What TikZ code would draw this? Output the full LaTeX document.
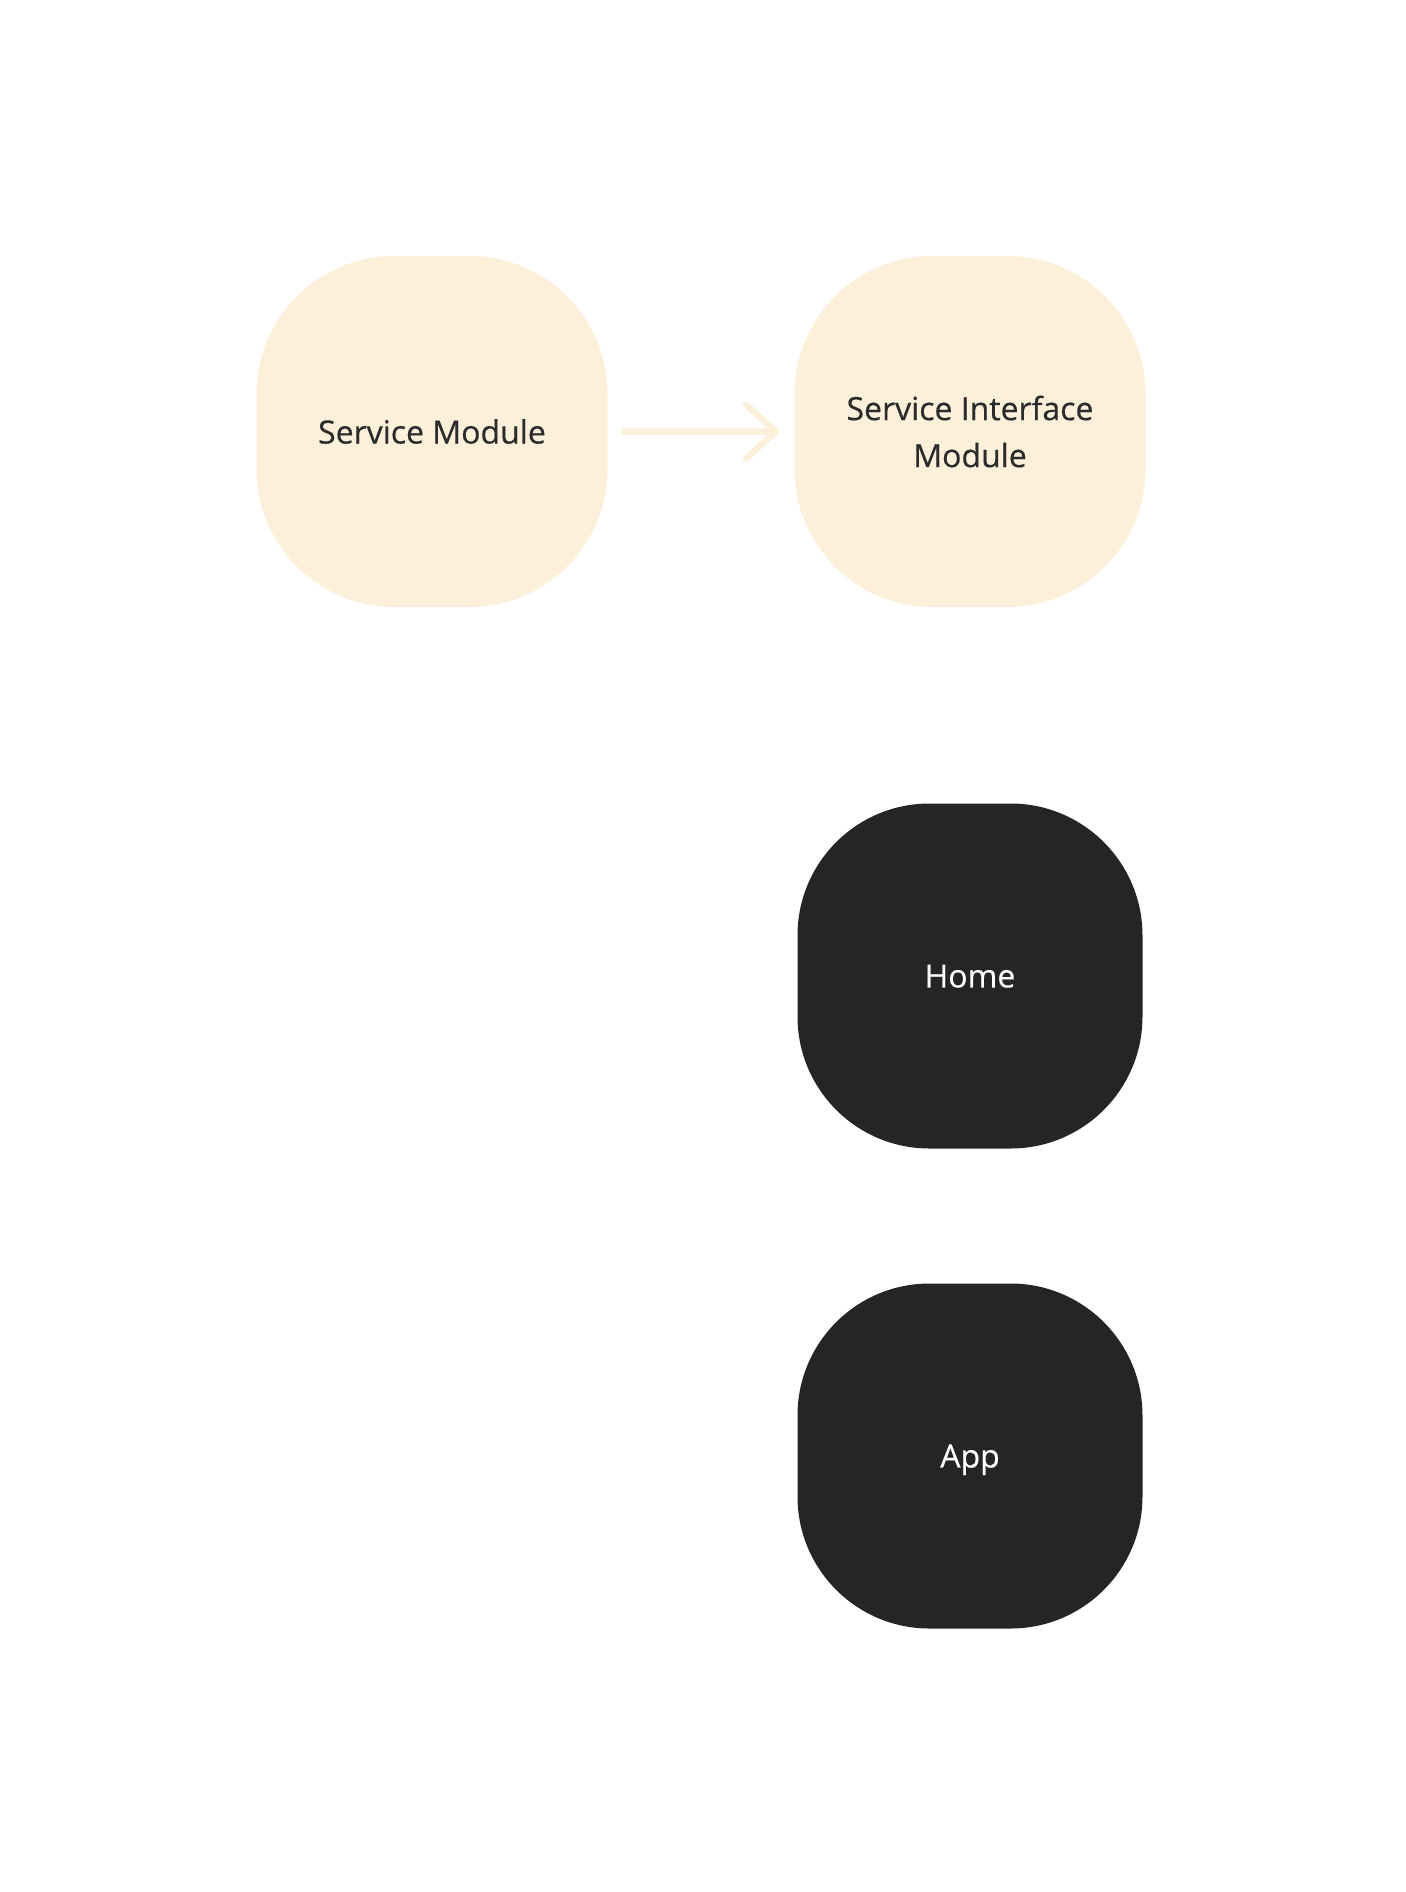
\documentclass[tikz,border=0pt]{standalone}
\usepackage{fontspec}
\newfontfamily\labelfont{Open Sans}[FakeBold=0.45]
\usetikzlibrary{arrows.meta}

\definecolor{cream}{RGB}{252,240,218}
\definecolor{ink}{RGB}{43,43,43}
\definecolor{coal}{RGB}{37,37,37}

\begin{document}
\begin{tikzpicture}[x=0.5pt, y=-0.5pt,
    module/.style={rounded corners=69pt, minimum size=175.5pt, fill=cream,
      text=ink, align=center, font=\labelfont\fontsize{16}{23.5}\selectfont},
    app/.style={module, rounded corners=66pt, minimum size=172.5pt, fill=coal,
      text=white, text depth=0pt}]
  \useasboundingbox[fill=white] (0,0) rectangle (1406,1892);

  \node[module] (svc) at (432,431.5) {Service Module};
  \node[module] (svcif) at (970,431.5) {Service Interface\\Module};

  \node[app] (home) at (970,976) {Home};
  \node[app] (main) at (970,1456) {App};

  % dependency arrow
  \draw[cream, line width=3.2pt, line cap=round,
    -{Straight Barb[length=15pt, width=27pt, round]},
    shorten <=8pt, shorten >=7.5pt] (svc) -- (svcif);
\end{tikzpicture}
\end{document}
